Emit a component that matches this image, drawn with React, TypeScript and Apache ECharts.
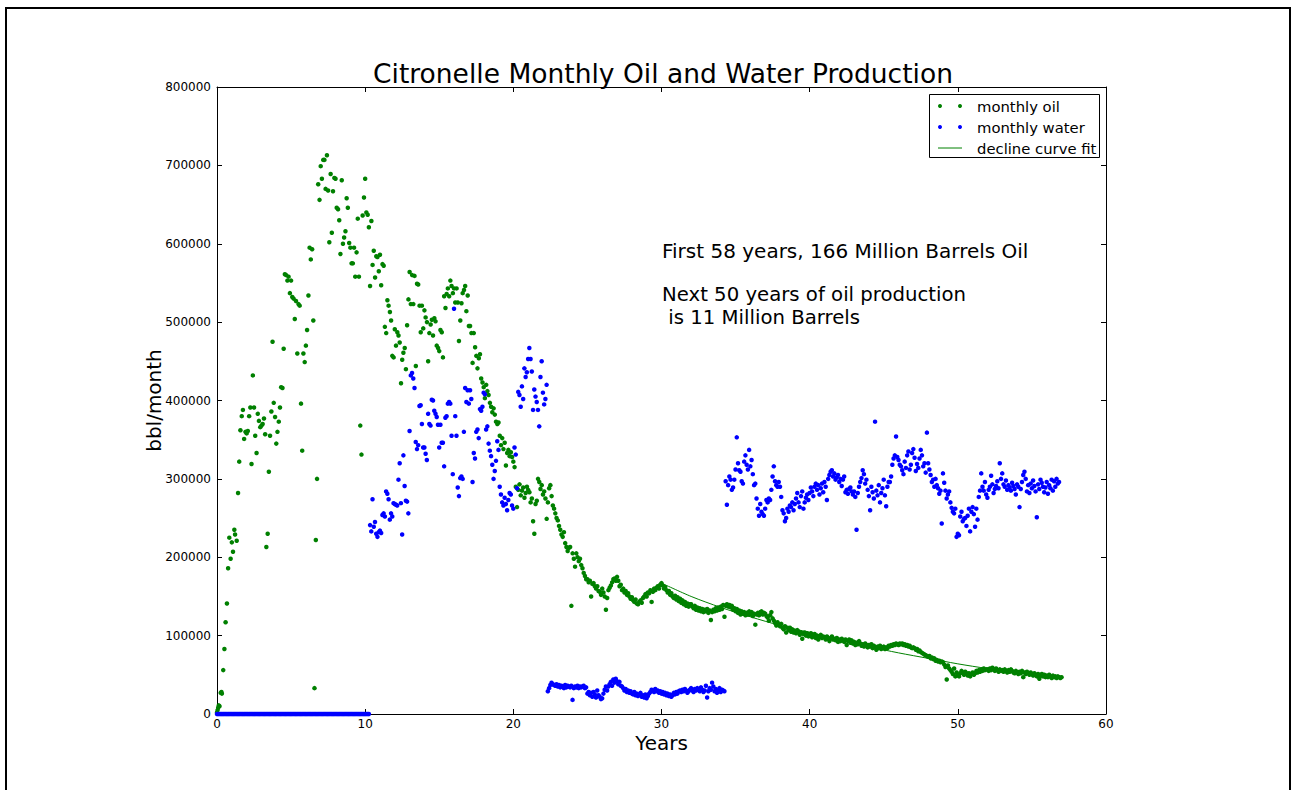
import React, { useEffect, useRef } from "react";
import * as echarts from "echarts";

// ---------------- DATA (values in thousand bbl / month) ----------------
const titleText = "Citronelle Monthly Oil and Water Production";
const xAxisName = "Years";
const yAxisName = "bbl/month";
const legendLabels = ["monthly oil", "monthly water", "decline curve fit"];
const noteFirst = "First 58 years, 166 Million Barrels Oil";
const noteSecond = ["Next 50 years of oil production", " is 11 Million Barrels"];

// scattered early oil points: [year, thousand bbl]
const oilEarly: [number, number][] = [
  [0.0, 2], [0.04, 5], [0.08, 8], [0.12, 11], [0.17, 10], [0.25, 27], [0.3, 28], [0.33, 26],
  [0.42, 56], [0.5, 83], [0.58, 117], [0.67, 141], [0.75, 186], [0.83, 225], [0.92, 198],
  [1.0, 219], [1.08, 207], [1.17, 235], [1.22, 229], [1.33, 221], [1.42, 282], [1.5, 322],
  [1.58, 362], [1.67, 380], [1.75, 388], [1.83, 351], [1.92, 360], [2.0, 358], [2.08, 361],
  [2.17, 380], [2.25, 391], [2.33, 319], [2.42, 432], [2.5, 391], [2.58, 355], [2.67, 333],
  [2.75, 383], [2.83, 374], [2.92, 366], [3.0, 368], [3.08, 370], [3.17, 377], [3.25, 357],
  [3.33, 213], [3.42, 230], [3.5, 309], [3.58, 355], [3.67, 386], [3.75, 475], [3.83, 397],
  [3.92, 379], [4.0, 345], [4.08, 360], [4.17, 373], [4.25, 391], [4.33, 417], [4.42, 416],
  [4.5, 466], [4.58, 561], [4.67, 560], [4.75, 553], [4.83, 558], [4.92, 537], [5.0, 553],
  [5.08, 532], [5.17, 530], [5.25, 504], [5.33, 527], [5.42, 460], [5.5, 523], [5.58, 521],
  [5.67, 396], [5.75, 336], [5.83, 460], [5.92, 449], [6.0, 470], [6.08, 490], [6.17, 534],
  [6.25, 595], [6.33, 580], [6.42, 593], [6.5, 502], [6.58, 33], [6.67, 222], [6.75, 300],
  [6.83, 676], [6.92, 656], [7.0, 699], [7.08, 683], [7.17, 707], [7.25, 707], [7.33, 670],
  [7.42, 713], [7.5, 668], [7.58, 602], [7.67, 689], [7.75, 614], [7.83, 667], [7.92, 684],
  [8.0, 683], [8.08, 646], [8.17, 644], [8.25, 630], [8.33, 587], [8.42, 681], [8.5, 600],
  [8.58, 608], [8.67, 616], [8.75, 658], [8.83, 646], [8.92, 601], [9.0, 595], [9.08, 575],
  [9.17, 575], [9.25, 595], [9.33, 558], [9.42, 589], [9.5, 632], [9.58, 558], [9.67, 368],
  [9.75, 331], [9.83, 636], [9.92, 659], [10.0, 683], [10.08, 640], [10.17, 637], [10.25, 621],
  [10.33, 546], [10.42, 629], [10.5, 573], [10.58, 591], [10.67, 557], [10.75, 584], [10.83, 583],
  [10.92, 565], [11.0, 586], [11.08, 547], [11.17, 574], [11.25, 572], [11.33, 494], [11.42, 486],
  [11.5, 528], [11.58, 521], [11.67, 513], [11.75, 502], [11.83, 457], [11.92, 455], [12.0, 491],
  [12.08, 470], [12.17, 487], [12.25, 483], [12.33, 474], [12.42, 422], [12.5, 452], [12.58, 461],
  [12.67, 467], [12.75, 440], [12.83, 496], [12.92, 529], [13.0, 564], [13.08, 523], [13.17, 560],
  [13.25, 523], [13.33, 559], [13.42, 444], [13.5, 549], [13.58, 548], [13.67, 521], [13.75, 487],
  [13.83, 521], [13.92, 492], [14.0, 515], [14.08, 506], [14.17, 500], [14.25, 450], [14.33, 486],
  [14.42, 497], [14.5, 503], [14.58, 483], [14.67, 505], [14.75, 501], [14.83, 470], [14.92, 467],
  [15.0, 463], [15.08, 490], [15.17, 487], [15.25, 455], [15.33, 533], [15.42, 518], [15.5, 536],
  [15.58, 543], [15.67, 533], [15.75, 553], [15.83, 546], [15.92, 537], [16.0, 543], [16.08, 525],
  [16.17, 543], [16.25, 525], [16.33, 476], [16.42, 502], [16.5, 524], [16.58, 537], [16.67, 541],
  [16.75, 546], [16.83, 514], [16.92, 534], [17.0, 495], [17.08, 495], [17.17, 486], [17.25, 448],
  [17.33, 486], [17.42, 468], [17.5, 457], [17.58, 441], [17.67, 454], [17.75, 459], [17.83, 428],
  [17.92, 423], [18.0, 417], [18.08, 403], [18.17, 420], [18.25, 412], [18.33, 407], [18.42, 397],
  [18.5, 392], [18.58, 385], [18.67, 390], [18.75, 382], [18.83, 373], [18.92, 370],
];

// monthly oil from year 19.0
const oilMonthlyStart = 19;
const oilMonthly: number[] = [
  372, 355, 343, 352, 338, 346, 317, 333, 337, 329, 334, 328,
  322, 315, 290, 264, 286, 293, 279, 285, 289, 276, 282, 290,
  286, 283, 270, 275, 246, 230, 268, 272, 300, 296, 287, 292,
  280, 284, 275, 249, 270, 288, 292, 278, 266, 262, 256, 250,
  247, 240, 235, 229, 226, 232, 218, 213, 208, 212, 213, 138,
  205, 198, 188, 205, 200, 195, 198, 190, 186, 180, 176, 172,
  172, 168, 170, 150, 166, 167, 163, 160, 163, 157, 156, 152,
  160, 155, 150, 133, 148, 158, 161, 164, 168, 172, 173, 170,
  175, 170, 163, 165, 158, 160, 155, 157, 152, 154, 150, 147,
  149, 145, 143, 146, 141, 140, 143, 145, 142, 148, 150, 153,
  150, 155, 154, 158, 143, 156, 160, 158, 161, 163, 160, 165,
  167, 164, 160, 162, 158, 155, 157, 152, 154, 150, 148, 151,
  146, 149, 144, 147, 142, 145, 140, 143, 138, 141, 137, 140,
  140, 137, 135, 138, 133, 136, 132, 135, 131, 134, 130, 133,
  131, 134, 129, 132, 120, 130, 133, 131, 135, 132, 136, 133,
  137, 134, 139, 124, 138, 140, 137, 139, 136, 138, 133, 135,
  131, 134, 129, 132, 127, 131, 128, 130, 126, 129, 127, 131,
  127, 130, 125, 128, 114, 127, 129, 126, 130, 131, 127, 129,
  128, 125, 123, 119, 126, 130, 122, 119, 116, 113, 117, 114,
  112, 115, 110, 108, 112, 104, 110, 107, 110, 105, 108, 104,
  106, 103, 107, 105, 101, 104, 96, 102, 104, 100, 103, 99,
  101, 103, 98, 100, 102, 97, 100, 95, 99, 101, 97, 99,
  98, 95, 99, 96, 93, 97, 99, 95, 96, 94, 97, 92,
  95, 93, 96, 94, 92, 95, 88, 93, 95, 91, 94, 90,
  92, 88, 91, 89, 93, 90, 87, 89, 86, 90, 88, 85,
  88, 86, 89, 84, 87, 85, 82, 86, 84, 87, 83, 85,
  86, 83, 85, 84, 87, 86, 88, 87, 89, 88, 90, 89,
  88, 90, 89, 90, 88, 89, 87, 88, 86, 87, 85, 84,
  85, 84, 82, 83, 80, 81, 79, 78, 77, 76, 75, 74,
  73, 74, 71, 72, 70, 71, 68, 69, 67, 68, 66, 67,
  66, 63, 60, 44, 62, 58, 56, 54, 51, 58, 48, 53,
  50, 48, 52, 55, 53, 50, 54, 52, 49, 52, 48, 51,
  53, 50, 52, 55, 53, 56, 54, 57, 55, 58, 56, 57,
  57, 55, 58, 56, 59, 57, 55, 58, 56, 54, 57, 55,
  56, 54, 57, 55, 53, 56, 54, 57, 55, 53, 52, 55,
  53, 51, 54, 52, 55, 47, 53, 51, 54, 52, 50, 53,
  51, 49, 52, 50, 48, 51, 45, 49, 51, 48, 50, 47,
  49, 47, 50, 48, 46, 49, 47, 48, 46, 48, 47, 46,
  47,
];

// monthly water from year 0.0 (no water reported)
const waterZeroStart = 0;
const waterZero: number[] = [
  0, 0, 0, 0, 0, 0, 0, 0, 0, 0, 0, 0,
  0, 0, 0, 0, 0, 0, 0, 0, 0, 0, 0, 0,
  0, 0, 0, 0, 0, 0, 0, 0, 0, 0, 0, 0,
  0, 0, 0, 0, 0, 0, 0, 0, 0, 0, 0, 0,
  0, 0, 0, 0, 0, 0, 0, 0, 0, 0, 0, 0,
  0, 0, 0, 0, 0, 0, 0, 0, 0, 0, 0, 0,
  0, 0, 0, 0, 0, 0, 0, 0, 0, 0, 0, 0,
  0, 0, 0, 0, 0, 0, 0, 0, 0, 0, 0, 0,
  0, 0, 0, 0, 0, 0, 0, 0, 0, 0, 0, 0,
  0, 0, 0, 0, 0, 0, 0, 0, 0, 0, 0, 0,
  0, 0, 0, 0,
];

// monthly water from year 10.33
const waterHighStart = 10.33;
const waterHigh: number[] = [
  241, 233, 274, 239, 245, 230, 226, 232, 234, 231, 254, 256,
  252, 284, 281, 274, 248, 256, 252, 269, 268, 267, 266, 299,
  320, 269, 229, 330, 291, 272, 271, 256, 361, 432, 435, 428,
  416, 347, 338, 343, 393, 394, 370, 340, 340, 332, 324, 383,
  370, 368, 401, 400, 387, 383, 379, 369, 340, 369, 346, 346,
  316, 378, 380, 396, 398, 396, 355, 306, 517, 380, 355, 289,
  278, 301, 303, 300, 360, 416, 398, 413, 396, 413, 402, 296,
  333, 326, 360, 363, 352, 389, 387, 392, 410, 408, 363, 367,
  345, 336, 329, 318, 300, 310, 323, 348, 337, 290, 280, 270,
  266, 276, 268, 260, 273, 282, 280, 266, 262, 340, 331, 288,
  411, 407, 392, 418, 402, 441, 430, 436, 453, 467, 453, 437,
  388, 414, 405, 398, 388, 367, 430, 450, 410, 395, 402, 420,
];

// monthly water from year 22.33
const waterLowStart = 22.33;
const waterLow: number[] = [
  29, 33, 37, 40, 38, 37, 36, 38, 35, 37, 34, 36,
  35, 33, 37, 34, 36, 35, 34, 36, 18, 33, 35, 34,
  36, 33, 35, 34, 35, 36, 33, 34, 26, 28, 24, 27,
  22, 28, 25, 21, 30, 24, 22, 19, 20, 26, 31, 35,
  30, 35, 38, 41, 36, 44, 40, 45, 42, 38, 41, 36,
  35, 33, 30, 32, 28, 30, 27, 29, 26, 25, 28, 24,
  26, 23, 25, 27, 22, 24, 21, 25, 20, 23, 26, 28,
  31, 30, 28, 32, 29, 30, 27, 29, 26, 28, 25, 27,
  24, 26, 23, 25, 22, 24, 27, 25, 28, 26, 29, 30,
  28, 31, 29, 32, 30, 27, 29, 31, 33, 30, 28, 32,
  30, 33, 31, 29, 34, 31, 28, 30, 36, 21, 29, 33,
  31, 40, 35, 29, 32, 27, 30, 33, 28, 31, 30, 29,
];

// monthly water from year 34.33
const waterLateStart = 34.33;
const waterLate: number[] = [
  297, 267, 292, 303, 299, 286, 289,
  299, 312, 353, 320, 311, 309,
  297, 294, 322, 330, 318, 312,
  337, 316, 324, 306, 292, 294,
  275, 262, 253, 268, 258, 255,
  253, 262, 273, 270, 275, 273,
  286, 303, 316, 297, 292, 290,
  296, 290, 277, 260, 256, 246,
  250, 262, 258, 266, 264, 270,
  260, 268, 275, 282, 270, 264,
  278, 284, 262, 270, 276, 280,
  273, 282, 289, 284, 278, 290,
  294, 286, 292, 280, 288, 294,
  283, 296, 290, 273, 300, 305,
  309, 311, 303, 307, 299, 302,
  305, 296, 300, 291, 299, 303,
  283, 286, 281, 287, 289, 284,
  280, 284, 277, 235, 282, 290,
  296, 301, 311, 306, 294, 299,
  286, 278, 260, 290, 283, 275,
  373, 285, 279, 292, 270, 282,
  288, 299, 279, 265, 290, 296,
  296, 303, 318, 326, 330, 354,
  328, 324, 318, 316, 311, 306,
  322, 314, 330, 335, 312, 318,
  333, 338, 327, 310, 319, 314,
  326, 337, 330, 316, 320, 308,
  359, 320, 312, 305, 296, 299,
  290, 300, 292, 288, 281, 285,
  243, 307, 295, 285, 275, 280,
  284, 270, 263, 258, 256, 262,
  226, 230, 228, 252, 258, 246,
  249, 250, 240, 253, 262, 233,
  258, 264, 255, 239, 262, 248,
  277, 285, 307, 290, 285, 296,
  280, 276, 286, 290, 304, 293,
  282, 287, 291, 297, 288, 320,
  300, 307, 293, 290, 298, 286,
  292, 289, 285, 295, 291, 287,
  280, 293, 290, 264, 287, 296,
  305, 309, 300, 284, 292, 282,
  294, 288, 298, 291, 284, 251,
  293, 287, 299, 295, 290, 283,
  289, 296, 281, 292, 288, 299,
  285, 297, 290, 300, 294, 296,
];

// decline curve fit
const fitYears: number[] = [30, 32, 34, 36, 38, 40, 42, 44, 46, 48, 50, 52, 54, 56, 57];
const fitValues: number[] = [167, 150, 136, 124, 113, 104, 95, 86, 78, 71, 64, 58, 53, 48, 46];

// axis ticks
const xMin = 0, xMax = 60, xStep = 10;
const yMin = 0, yMax = 800000, yStep = 100000;

// ---------------- build ----------------
const K = 1000;
const monthly = (start: number, vals: number[]) =>
  vals.map((v, i) => [start + i / 12, v * K]);

const oilData = [
  ...oilEarly.map(([x, v]) => [x, v * K]),
  ...monthly(oilMonthlyStart, oilMonthly),
];
const waterData = [
  ...monthly(waterZeroStart, waterZero),
  ...monthly(waterHighStart, waterHigh),
  ...monthly(waterLowStart, waterLow),
  ...monthly(waterLateStart, waterLate),
];
const fitData = fitYears.map((x, i) => [x, fitValues[i] * K]);

const FONT = "DejaVu Sans";
const GREEN = "#008000";
const BLUE = "#0000ff";

const axisCommon = {
  type: "value" as const,
  axisLine: { show: true, onZero: false, lineStyle: { color: "#000", width: 1 } },
  axisTick: { show: true, inside: true, length: 5, lineStyle: { color: "#000", width: 1 } },
  splitLine: { show: false },
};

const txt = (text: string, x: number, y: number, size: number, align = "left") => ({
  type: "text",
  silent: true,
  style: {
    text,
    x,
    y,
    fill: "#000",
    fontFamily: FONT,
    fontSize: size,
    textAlign: align,
    align,
    textVerticalAlign: "middle",
    verticalAlign: "middle",
  },
  z: 100,
});

const option = {
  animation: false,
  backgroundColor: "#fff",
  textStyle: { fontFamily: FONT },
  grid: { left: 217, top: 87, width: 889, height: 627, containLabel: false },
  xAxis: [
    {
      ...axisCommon,
      position: "bottom",
      min: xMin,
      max: xMax,
      interval: xStep,
      axisLabel: { show: true, fontSize: 12, color: "#000", fontFamily: FONT, margin: 4 },
      name: xAxisName,
      nameLocation: "middle",
      nameGap: 19,
      nameMoveOverlap: false,
      nameTextStyle: { fontSize: 20, color: "#000", fontFamily: FONT },
    },
    {
      ...axisCommon,
      position: "top",
      min: xMin,
      max: xMax,
      interval: xStep,
      axisLabel: { show: false },
    },
  ],
  yAxis: [
    {
      ...axisCommon,
      position: "left",
      min: yMin,
      max: yMax,
      interval: yStep,
      axisLabel: {
        show: true,
        fontSize: 12,
        color: "#000",
        fontFamily: FONT,
        margin: 6,
        formatter: (v: number) => String(v),
      },
      name: yAxisName,
      nameLocation: "middle",
      nameGap: 53,
      nameRotate: 90,
      nameMoveOverlap: false,
      nameTextStyle: { fontSize: 20, color: "#000", fontFamily: FONT },
    },
    {
      ...axisCommon,
      position: "right",
      min: yMin,
      max: yMax,
      interval: yStep,
      axisLabel: { show: false },
    },
  ],
  series: [
    {
      name: legendLabels[0],
      type: "scatter",
      data: oilData,
      symbol: "circle",
      symbolSize: 4.5,
      itemStyle: { color: GREEN, opacity: 1 },
      progressive: 0,
      large: false,
      silent: true,
      z: 2,
    },
    {
      name: legendLabels[1],
      type: "scatter",
      data: waterData,
      symbol: "circle",
      symbolSize: 4.5,
      itemStyle: { color: BLUE, opacity: 1 },
      progressive: 0,
      large: false,
      silent: true,
      z: 3,
    },
    {
      name: legendLabels[2],
      type: "line",
      data: fitData,
      smooth: 0.3,
      showSymbol: false,
      symbol: "none",
      lineStyle: { color: GREEN, width: 1 },
      silent: true,
      z: 4,
    },
  ],
  graphic: [
    // figure frame
    {
      type: "rect",
      silent: true,
      shape: { x: 6, y: 8, width: 1284, height: 800 },
      style: { fill: "none", stroke: "#000", lineWidth: 2 },
      z: 0,
    },
    txt(titleText, 663, 73, 26.5, "center"),
    txt(noteFirst, 662, 251, 20),
    txt(noteSecond[0], 662, 294, 19.7),
    txt(noteSecond[1], 662, 317, 19.7),
    // legend
    {
      type: "rect",
      silent: true,
      shape: { x: 929.5, y: 94.5, width: 170, height: 63 },
      style: { fill: "#fff", stroke: "#000", lineWidth: 1 },
      z: 90,
    },
    { type: "circle", silent: true, shape: { cx: 940, cy: 106, r: 2 }, style: { fill: GREEN }, z: 95 },
    { type: "circle", silent: true, shape: { cx: 960, cy: 106, r: 2 }, style: { fill: GREEN }, z: 95 },
    { type: "circle", silent: true, shape: { cx: 940, cy: 127, r: 2 }, style: { fill: BLUE }, z: 95 },
    { type: "circle", silent: true, shape: { cx: 960, cy: 127, r: 2 }, style: { fill: BLUE }, z: 95 },
    {
      type: "line",
      silent: true,
      shape: { x1: 938, y1: 148, x2: 962, y2: 148 },
      style: { stroke: GREEN, lineWidth: 1 },
      z: 95,
    },
    txt(legendLabels[0], 977, 106, 14.8),
    txt(legendLabels[1], 977, 127, 14.8),
    txt(legendLabels[2], 977, 148, 14.8),
  ],
};

export default function App() {
  const ref = useRef<HTMLDivElement>(null);
  useEffect(() => {
    if (!ref.current) return;
    const chart = echarts.init(ref.current, null, { renderer: "svg" });
    chart.setOption(option as any);
    return () => chart.dispose();
  }, []);
  return (
    <div
      ref={ref}
      style={{ position: "fixed", left: 0, top: 0, width: 1294, height: 790, background: "#fff" }}
    />
  );
}
